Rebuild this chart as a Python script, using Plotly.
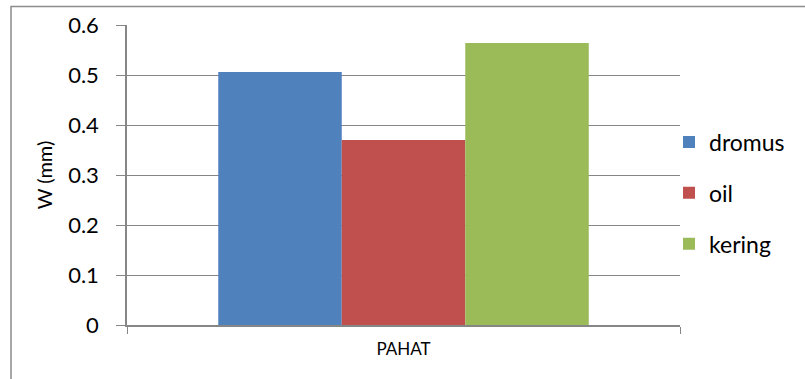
import plotly.graph_objects as go

categories = ["PAHAT"]
series_names = ["dromus", "oil", "kering"]
dromus = [0.506]
oil = [0.370]
kering = [0.564]
series_values = [dromus, oil, kering]
colors = ["#4F81BD", "#C0504D", "#9BBB59"]
y_ticks = [0, 0.1, 0.2, 0.3, 0.4, 0.5, 0.6]
y_tick_labels = ["0", "0.1", "0.2", "0.3", "0.4", "0.5", "0.6"]

fig = go.Figure()
for i, (name, vals) in enumerate(zip(series_names, series_values)):
    fig.add_trace(go.Bar(
        x=categories, y=vals, name=name,
        marker=dict(color=colors[i], line=dict(width=0)),
        legendgroup=name,
    ))

L, R, T, B = 127, 125, 25, 54
W, H = 805, 379
pw = W - L - R
ph = H - T - B

fig.update_layout(
    width=W, height=H,
    margin=dict(l=L, r=R, t=T, b=B),
    paper_bgcolor="white", plot_bgcolor="white",
    barmode="group", bargap=0.33, bargroupgap=0,
    font=dict(family="Lato", color="#000000"),
    legend=dict(
        x=(669 - L) / pw, y=(T + ph - 193) / ph, xanchor="left", yanchor="middle",
        font=dict(size=23, family="Lato"),
        tracegroupgap=18, bgcolor="rgba(0,0,0,0)",
    ),
    xaxis=dict(
        showgrid=False, showline=True, linecolor="#868686", linewidth=1.5,
        ticks="outside", tickson="boundaries", ticklen=7, tickcolor="#868686",
        tickfont=dict(size=17, family="Lato"), ticklabelstandoff=8, fixedrange=True,
    ),
    yaxis=dict(
        range=[0, 0.6], tickvals=y_ticks, ticktext=y_tick_labels,
        showgrid=True, gridcolor="#868686", gridwidth=1,
        showline=True, linecolor="#868686", linewidth=1.5,
        ticks="outside", ticklen=9, tickcolor="#868686",
        tickfont=dict(size=22, family="Lato"), ticklabelstandoff=13,
        title=dict(text="W (mm)", font=dict(size=20, family="Lato"), standoff=10),
        zeroline=False,
    ),
    shapes=[dict(
        type="rect", xref="paper", yref="paper",
        x0=(11 - L) / pw, x1=(W + 20 - L) / pw,
        y0=-(H + 20 - (T + ph)) / ph, y1=(T + ph - 6.5) / ph,
        line=dict(color="#8c8c8c", width=1.5), layer="below",
    )],
)

fig.write_html("out.html")
